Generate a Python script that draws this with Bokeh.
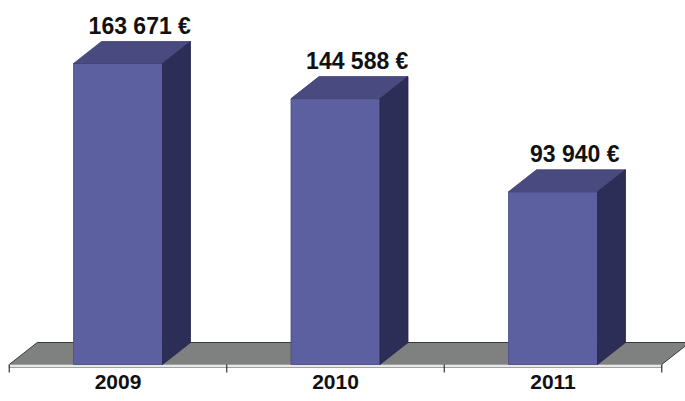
from bokeh.plotting import figure
from bokeh.models import Range1d
from bokeh.core.properties import value
from bokeh.embed import file_html
from bokeh.resources import INLINE

# ---- data ----
years = ["2009", "2010", "2011"]
amounts = [163671, 144588, 93940]
amount_labels = ["163 671 €", "144 588 €", "93 940 €"]

# ---- layout constants ----
W, H = 685, 401
OFF = 0            # screen offset of the canvas
K = 543.8          # euros per screen pixel
UNIT = 217.5       # screen pixels per category
X0 = 117.5         # screen x of first category centre
BASE = 364         # screen y of zero line
DX = 28 / UNIT     # depth offset (x)
DY = 22 * K        # depth offset (y)
HW = 44.5 / UNIT   # half bar width

FONT = "Liberation Sans"

p = figure(width=W, height=H,
           x_range=Range1d((OFF - X0) / UNIT, (OFF + W - X0) / UNIT),
           y_range=Range1d((BASE - (OFF + H)) * K, (BASE - OFF) * K),
           output_backend="svg", toolbar_location=None, min_border=0)
p.axis.visible = False
p.grid.visible = False
p.outline_line_color = None
p.background_fill_color = "white"
p.border_fill_color = "white"

n = len(years)
xs = list(range(n))

# floor
p.patch([-0.5, n - 0.5, n - 0.5 + DX, -0.5 + DX], [0, 0, DY, DY],
        fill_color="#7f8080", line_color="#3a3a3a", line_width=1)
# floor front slab
p.quad(left=[-0.5], right=[n - 0.5], bottom=[-3 * K], top=[0],
       fill_color="#e8e8e8", line_color="#a0a0a0", line_width=1)
# tick marks at category boundaries
bx = [b - 0.5 for b in range(n + 1)]
p.segment(x0=bx, y0=[0] * len(bx), x1=bx, y1=[-8 * K] * len(bx),
          line_color="#333333", line_width=1.2)

# bars
left = [x - HW for x in xs]
right = [x + HW for x in xs]
p.quad(left=left, right=right, bottom=[0] * n, top=amounts,
       fill_color="#5d60a0", line_color="#4a4c86", line_width=0.8)
p.patches([[l, r, r + DX, l + DX] for l, r in zip(left, right)],
          [[a, a, a + DY, a + DY] for a in amounts],
          fill_color="#494b80", line_color="#3e4070", line_width=0.8)
p.patches([[r, r + DX, r + DX, r] for r in right],
          [[0, DY, a + DY, a] for a in amounts],
          fill_color="#2c2e58", line_color="#25274a", line_width=0.8)

# value labels
p.text(x=[x + 0.1 for x in xs], y=[a + DY + 3 * K for a in amounts], text=amount_labels,
       text_align="center", text_baseline="bottom",
       text_font=value(FONT), text_font_style="bold", text_font_size="23px",
       text_color="#111111")

# year labels
p.text(x=xs, y=[-10 * K] * n, text=years,
       text_align="center", text_baseline="top",
       text_font=value(FONT), text_font_style="bold", text_font_size="21px",
       text_color="#111111")

open("out.html", "w").write(file_html(p, INLINE))
